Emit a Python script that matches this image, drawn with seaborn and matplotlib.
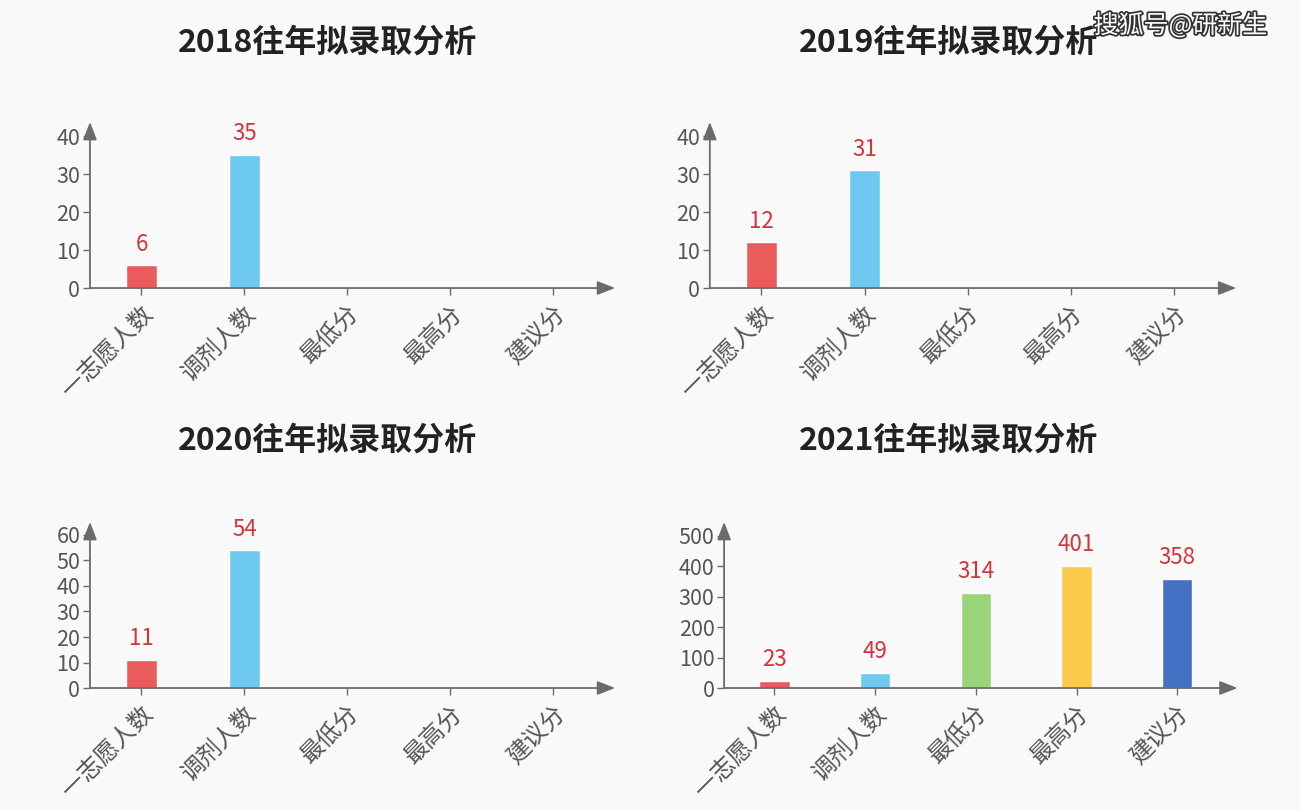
import numpy as np
import pandas as pd
import seaborn as sns
import matplotlib.pyplot as plt
import matplotlib.patheffects as pe

# Data
categories = ['一志愿人数', '调剂人数', '最低分', '最高分', '建议分']
years = ['2018', '2019', '2020', '2021']
values_2018 = [6, 35, np.nan, np.nan, np.nan]
values_2019 = [12, 31, np.nan, np.nan, np.nan]
values_2020 = [11, 54, np.nan, np.nan, np.nan]
values_2021 = [23, 49, 314, 401, 358]
y_ticks_2018 = [0, 10, 20, 30, 40]
y_ticks_2019 = [0, 10, 20, 30, 40]
y_ticks_2020 = [0, 10, 20, 30, 40, 50, 60]
y_ticks_2021 = [0, 100, 200, 300, 400, 500]

BAR_COLORS = ['#ea5b5b', '#6dc9f0', '#9ad47a', '#fcc94b', '#4571c4']
AXIS_COLOR = '#6b6b6b'
TEXT_COLOR = '#555555'
LABEL_COLOR = '#d5333a'
BG_COLOR = '#f9f9f9'

sns.set_theme(style='white')
plt.rcParams['font.family'] = ['Noto Sans CJK SC', 'DejaVu Sans']


def draw_panel(ax, values, y_ticks, y_top):
    """ Draw one year's bars with arrow axes """
    df = pd.DataFrame({'category': categories, 'value': values})
    palette = dict(zip(categories, BAR_COLORS))
    sns.barplot(
        data=df, x='category', y='value', hue='category',
        order=categories, hue_order=categories, palette=palette,
        width=0.3, saturation=1, legend=False, ax=ax)

    ax.set_facecolor('none')
    ax.set_xlim(-0.5, 4.6)
    ax.set_ylim(0, y_top)
    ax.set_xlabel('')
    ax.set_ylabel('')
    for side in ['top', 'right', 'left', 'bottom']:
        ax.spines[side].set_visible(False)

    # Arrow axes
    arrow = dict(arrowstyle='-|>,head_length=0.9,head_width=0.35',
                 color=AXIS_COLOR, lw=1.3, shrinkA=0, shrinkB=0)
    ax.annotate('', xy=(1, 0), xytext=(0, 0), xycoords='axes fraction', arrowprops=arrow)
    ax.annotate('', xy=(0, 1), xytext=(0, 0), xycoords='axes fraction', arrowprops=arrow)

    ax.set_yticks(y_ticks)
    ax.set_yticklabels([str(t) for t in y_ticks], fontsize=15.5, color=TEXT_COLOR,
                       fontweight='light')
    ax.set_xticks(range(len(categories)))
    ax.set_xticklabels(categories, fontsize=17, color=TEXT_COLOR, fontweight='light',
                       rotation=45, ha='right', rotation_mode='anchor')
    ax.tick_params(axis='both', which='both', direction='out', length=5,
                   width=1, color=AXIS_COLOR, pad=2, left=True, bottom=True)
    ax.tick_params(axis='x', pad=5)

    # Value labels
    for i, v in enumerate(values):
        if np.isnan(v):
            continue
        ax.annotate(str(int(v)), xy=(i, v), xytext=(0, 7),
                    textcoords='offset points', ha='center', va='bottom',
                    fontsize=16, color=LABEL_COLOR, fontweight='light')


fig = plt.figure(figsize=(13, 8.1), dpi=100, facecolor=BG_COLOR)

panels = [
    (years[0], values_2018, y_ticks_2018, 43.7, [0.0692, 0.6444, 0.404, 0.205], 0.252),
    (years[1], values_2019, y_ticks_2019, 43.7, [0.546, 0.6444, 0.405, 0.205], 0.730),
    (years[2], values_2020, y_ticks_2020, 65.1, [0.0692, 0.1506, 0.404, 0.205], 0.252),
    (years[3], values_2021, y_ticks_2021, 546, [0.557, 0.1506, 0.395, 0.205], 0.730),
]

for year, values, y_ticks, y_top, rect, title_x in panels:
    ax = fig.add_axes(rect)
    draw_panel(ax, values, y_ticks, y_top)
    title_y = 0.948 if rect[1] > 0.5 else 0.456
    fig.text(title_x, title_y, f'{year}往年拟录取分析', ha='center', va='center',
             fontsize=23, fontweight='bold', color='#222222')

# Watermark
fig.text(0.908, 0.968, '搜狐号@研新生', ha='center', va='center', fontsize=18,
         color='white',
         path_effects=[pe.withStroke(linewidth=2.5, foreground='#333333')])

plt.savefig('out.png', dpi=100, facecolor=BG_COLOR)
plt.close()
